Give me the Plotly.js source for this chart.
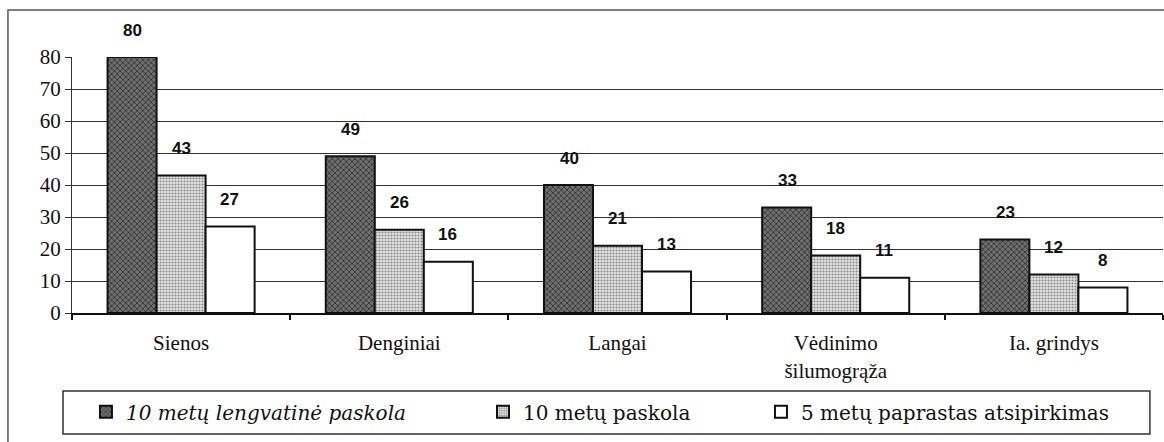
<!DOCTYPE html>
<html><head><meta charset="utf-8">
<script src="https://cdn.plot.ly/plotly-3.0.1.min.js"></script>
<style>html,body{margin:0;padding:0;background:#fff}#c{width:1164px;height:442px}</style>
</head><body><div id="c"></div>
<script>
const categories = ['Sienos', 'Denginiai', 'Langai', 'Vėdinimo<br>šilumogrąža', 'Ia. grindys'];
const seriesNames = ['10 metų lengvatinė paskola', '10 metų paskola', '5 metų paprastas atsipirkimas'];
const soft10 = [80, 49, 40, 33, 23];
const loan10 = [43, 26, 21, 18, 12];
const payback5 = [27, 16, 13, 11, 8];
const yTicks = [0, 10, 20, 30, 40, 50, 60, 70, 80];

const serif = 'Liberation Serif, Times New Roman, serif';
const wideSerif = 'DejaVu Serif, serif';
const sans = 'Liberation Sans, Arial, sans-serif';
const seriesValues = [soft10, loan10, payback5];
const styles = [
  {color: '#6a6a6a', pattern: {shape: 'x', fgcolor: '#2a2a2a', bgcolor: '#707070', size: 4, solidity: 0.35}},
  {color: '#cfcfcf', pattern: {shape: '.', fgcolor: '#8a8a8a', bgcolor: '#e4e4e4', size: 3, solidity: 0.4}},
  {color: '#ffffff', pattern: {shape: ''}}
];
const legendIds = ['legend', 'legend2', 'legend3'];

const traces = seriesValues.map((vals, i) => ({
  type: 'bar', x: categories, y: vals, name: seriesNames[i],
  legend: legendIds[i],
  marker: {color: styles[i].color, pattern: styles[i].pattern, line: {color: '#111', width: 2}},
  hoverinfo: 'skip'
}));

const annotations = [];
const shifts = [-48.5, 0, 48.5];
seriesValues.forEach((vals, i) => {
  vals.forEach((v, j) => {
    annotations.push({x: categories[j], y: v, xref: 'x', yref: 'y', text: '<b>' + v + '</b>', showarrow: false,
      xshift: shifts[i], yshift: 27, yanchor: 'middle', font: {family: sans, size: 17, color: '#111'}});
  });
});

const legBase = (x, italic) => ({
  orientation: 'h', x: x, xref: 'paper', y: -0.31, yref: 'paper', xanchor: 'left', yanchor: 'top',
  bgcolor: 'rgba(0,0,0,0)', borderwidth: 0, itemwidth: 30,
  font: {family: wideSerif, size: 20, color: '#111', style: italic ? 'italic' : 'normal'}
});

const layout = {
  width: 1164, height: 442,
  margin: {l: 72, r: 1, t: 57, b: 129},
  paper_bgcolor: '#fff', plot_bgcolor: '#fff',
  barmode: 'group', bargap: 0.326, bargroupgap: 0,
  showlegend: true,
  legend: legBase(0.0128, true),
  legend2: legBase(0.3767, false),
  legend3: legBase(0.6315, false),
  xaxis: {
    type: 'category', showgrid: false, showline: true, linecolor: '#111', linewidth: 2,
    ticks: 'outside', tickson: 'boundaries', ticklen: 5, tickcolor: '#111', tickwidth: 2,
    ticklabelstandoff: 10,
    tickfont: {family: serif, size: 21, color: '#111'}, zeroline: false, fixedrange: true
  },
  yaxis: {
    range: [0, 80], tickvals: yTicks, ticktext: yTicks.map(String),
    showgrid: true, gridcolor: '#333', gridwidth: 1,
    showline: true, linecolor: '#333', linewidth: 1,
    ticks: 'outside', ticklen: 6, tickcolor: '#333',
    tickfont: {family: serif, size: 21, color: '#111'}, zeroline: false, fixedrange: true
  },
  annotations: annotations,
  shapes: [
    {type: 'rect', xref: 'paper', yref: 'paper', x0: -0.0587, x1: 1.02, y0: -0.6, y1: 1.1836,
     line: {color: '#555', width: 1.5}, fillcolor: 'rgba(0,0,0,0)', layer: 'below'},
    {type: 'rect', xref: 'paper', yref: 'paper', x0: -0.00825, x1: 0.988, y0: -0.4727, y1: -0.3047,
     line: {color: '#333', width: 1.5}, fillcolor: 'rgba(0,0,0,0)'}
  ]
};

Plotly.newPlot('c', traces, layout, {displayModeBar: false, staticPlot: true});
</script></body></html>
